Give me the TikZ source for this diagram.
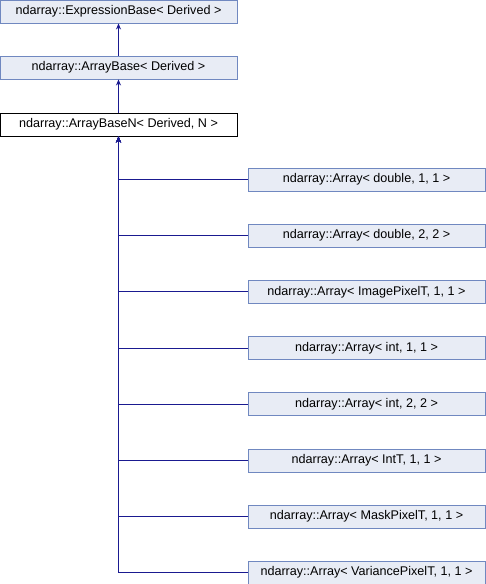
\documentclass[tikz,border=0pt]{standalone}
\usepackage{fontspec}
\setmainfont{Liberation Sans}
\usetikzlibrary{arrows.meta}
\definecolor{boxfill}{HTML}{E8ECF5}
\definecolor{boxline}{HTML}{7088C0}
\definecolor{edge}{HTML}{1A1A90}
\begin{document}
\begin{tikzpicture}[x=1pt,y=1pt,
  cls/.style={draw=boxline,fill=boxfill,line width=0.9pt,minimum width=237pt,minimum height=23pt,inner sep=0pt,font=\fontsize{12.6}{14}\selectfont},
  cur/.style={cls,draw=black,fill=white},
  inh/.style={draw=edge,line width=1pt,-{Stealth[length=6pt,width=5pt]}}]
\useasboundingbox (0,0) rectangle (486,-584);
\node[cls] (eb) at (118.5,-11.5) {ndarray::ExpressionBase< Derived >};
\node[cls] (ab) at (118.5,-67.5) {ndarray::ArrayBase< Derived >};
\node[cur] (abn) at (118.5,-124.5) {ndarray::ArrayBaseN< Derived, N >};
\node[cls] (c1) at (366.5,-179.5) {ndarray::Array< double, 1, 1 >};
\node[cls] (c2) at (366.5,-235.7) {ndarray::Array< double, 2, 2 >};
\node[cls] (c3) at (366.5,-291.9) {ndarray::Array< ImagePixelT, 1, 1 >};
\node[cls] (c4) at (366.5,-348.1) {ndarray::Array< int, 1, 1 >};
\node[cls] (c5) at (366.5,-404.3) {ndarray::Array< int, 2, 2 >};
\node[cls] (c6) at (366.5,-460.5) {ndarray::Array< IntT, 1, 1 >};
\node[cls] (c7) at (366.5,-516.7) {ndarray::Array< MaskPixelT, 1, 1 >};
\node[cls] (c8) at (366.5,-572.5) {ndarray::Array< VariancePixelT, 1, 1 >};
\draw[inh] (ab) -- (eb);
\draw[inh] (abn) -- (ab);
\foreach \c in {c1,c2,c3,c4,c5,c6,c7,c8}
  \draw[inh] (\c.west) -| (abn.south);
\end{tikzpicture}
\end{document}
